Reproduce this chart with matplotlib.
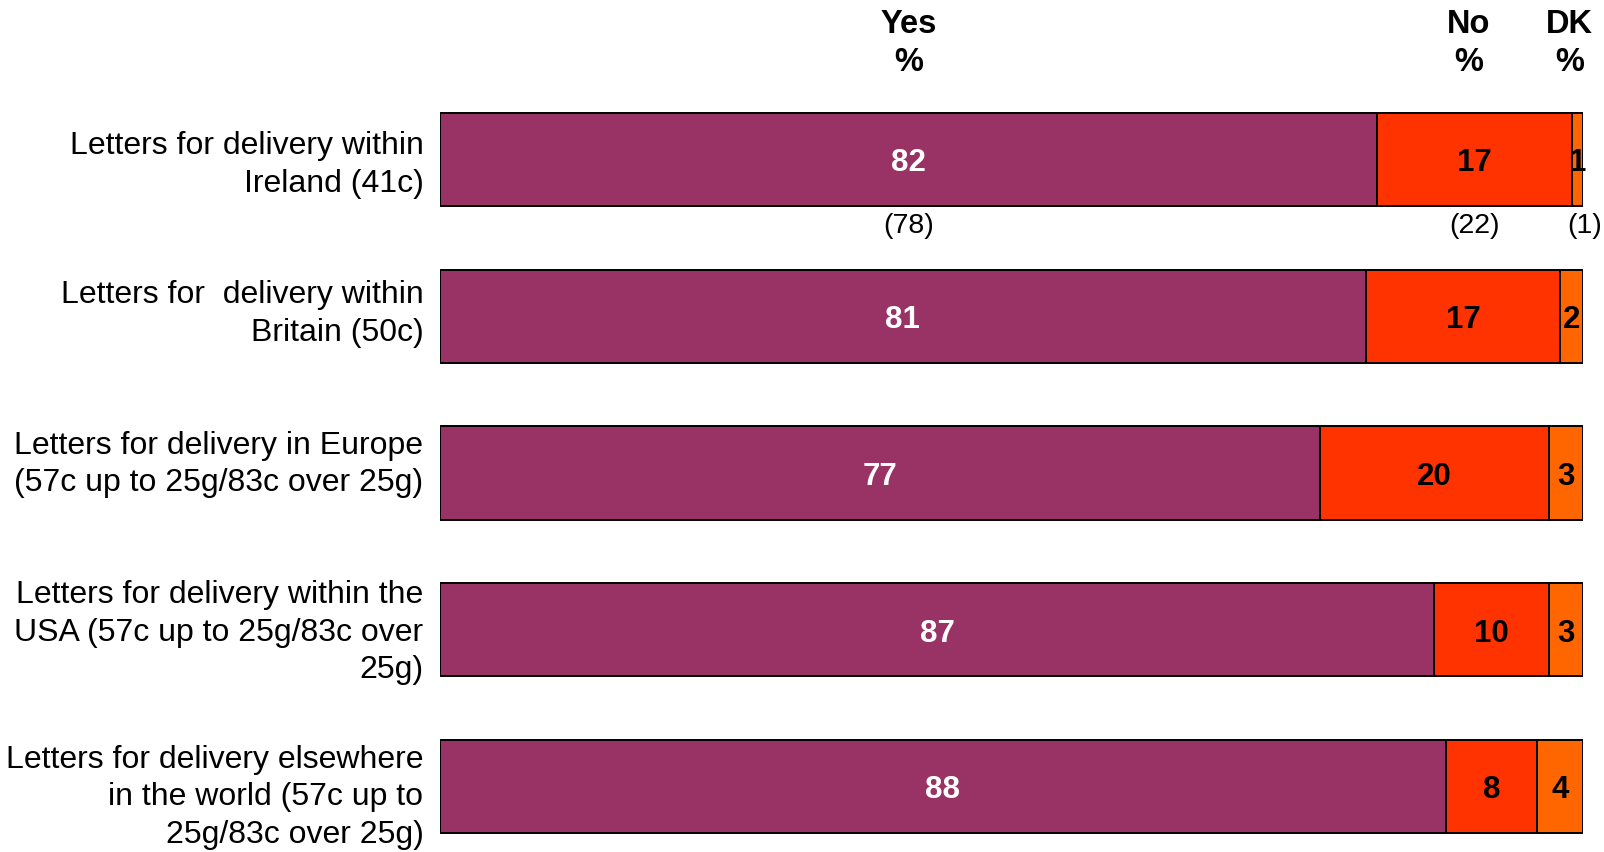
import matplotlib
matplotlib.use("Agg")
import matplotlib.pyplot as plt
import numpy as np

plt.rcParams['font.family'] = ['Liberation Sans', 'DejaVu Sans']

categories = [
    "Letters for delivery within\nIreland (41c)",
    "Letters for  delivery within\nBritain (50c)",
    "Letters for delivery in Europe\n(57c up to 25g/83c over 25g)",
    "Letters for delivery within the\nUSA (57c up to 25g/83c over\n25g)",
    "Letters for delivery elsewhere\nin the world (57c up to\n25g/83c over 25g)",
]
yes = [82, 81, 77, 87, 88]
no = [17, 17, 20, 10, 8]
dk = [1, 2, 3, 3, 4]
# previous-wave figures shown under the first row
prev_first_row = [78, 22, 1]

series = [yes, no, dk]
series_names = ["Yes\n%", "No\n%", "DK\n%"]
colors = ["#993366", "#FF3300", "#FF6600"]
text_colors = ["white", "black", "black"]

# small vertical nudges for the category labels (row units)
label_nudge = [0.03, -0.02, -0.06, 0.012, 0.062]

W, H = 1604, 853
fig = plt.figure(figsize=(W / 100, H / 100), dpi=100)
left_px, right_px = 440, 1583
ax = fig.add_axes([left_px / W, 0, (right_px - left_px) / W, 1])

y = np.arange(len(categories))
row_step = 156.75
top_center = 160.5
ax.set_ylim((H - top_center) / row_step, -top_center / row_step)
ax.set_xlim(0, 100)
ax.axis("off")

starts = np.zeros(len(categories))
for vals, col, tcol in zip(series, colors, text_colors):
    vals = np.array(vals, dtype=float)
    ax.barh(y, vals, left=starts, height=0.595, color=col,
            edgecolor="black", linewidth=1.4)
    for yi, (s, v) in enumerate(zip(starts, vals)):
        ax.text(s + v / 2, yi - 0.004, f"{int(v)}", ha="center",
                va="center_baseline", color=tcol, fontsize=22.5,
                fontweight="bold")
    starts = starts + vals

# column headers centred over the first row's segments
header_x = [yes[0] / 2, 90.0, 98.8]
for name, hx in zip(series_names, header_x):
    ax.text(hx, -0.747, name, ha="center", va="center", fontsize=23.5,
            fontweight="bold", linespacing=1.31)

# previous figures beneath row one
prev_x = [yes[0] / 2, yes[0] + no[0] / 2, 100.1]
for px, pv in zip(prev_x, prev_first_row):
    ax.text(px, 0.42, f"({pv})", ha="center", va="center", fontsize=20.5)

# category labels, right-aligned to the left of the bars
for yi, (cat, nudge) in enumerate(zip(categories, label_nudge)):
    ax.text(-1.45, yi + nudge, cat, ha="right", va="center", fontsize=23,
            linespacing=1.33)

fig.savefig("out.png", dpi=100)
